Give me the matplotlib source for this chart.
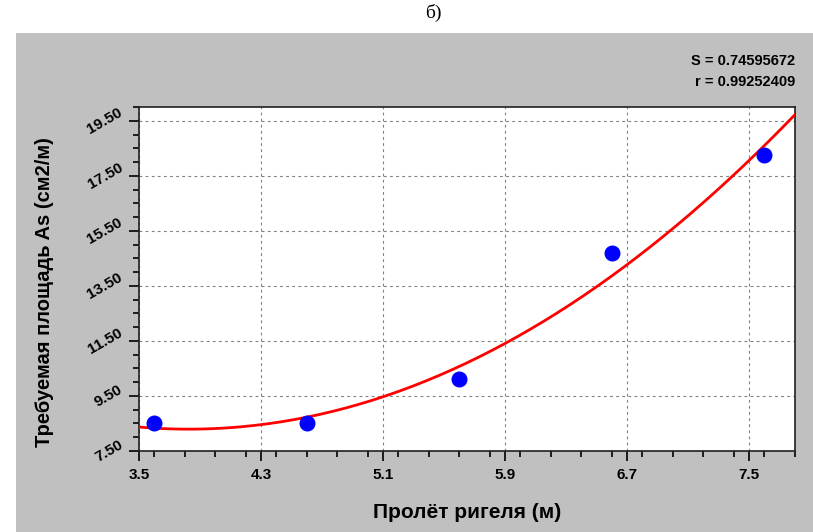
import numpy as np
import matplotlib.pyplot as plt
from matplotlib.ticker import MultipleLocator, FormatStrFormatter

# пролёт ригеля, м / требуемая площадь As, см2/м
span = [3.6, 4.6, 5.6, 6.6, 7.6]
area = [8.52, 8.50, 10.12, 14.70, 18.26]
stats = ['S = 0.74595672', 'r = 0.99252409']

coef = np.polyfit(span, area, 2)
xs = np.linspace(3.5, 7.8, 200)
ys = np.polyval(coef, xs)

fig = plt.figure(figsize=(8.13, 5.32), dpi=100)
fig.patch.set_facecolor('white')
# gray panel
bg = fig.add_axes([16 / 813, 0, 1 - 16 / 813, 1 - 33 / 532], zorder=-1)
bg.set_facecolor('#c0c0c0')
bg.set_xticks([]), bg.set_yticks([])
for s in bg.spines.values():
    s.set_visible(False)
fig.text(433 / 813, 1 - 13 / 532, 'б)', ha='center', va='center', fontsize=14,
         family=['Liberation Serif', 'DejaVu Serif'])

ax = fig.add_axes([139 / 813, 1 - 451 / 532, (795 - 139) / 813, (451 - 107) / 532])
ax.set_facecolor('white')
ax.plot(xs, ys, color='#ff0000', lw=2, zorder=3)
ax.plot(span, area, 'o', color='#0000ff', ms=10.5, zorder=4)

ax.set_xlim(3.5, 7.8)
ax.set_ylim(7.5, 20.0)
ax.xaxis.set_minor_locator(MultipleLocator(0.2))
ax.yaxis.set_minor_locator(MultipleLocator(0.5))
ax.set_xticks(np.arange(3.5, 7.81, 0.8))
ax.set_yticks(np.arange(7.5, 20.01, 2.0))
ax.xaxis.set_major_formatter(FormatStrFormatter('%.1f'))
ax.yaxis.set_major_formatter(FormatStrFormatter('%.2f'))
ax.grid(True, which='major', color='#808080', ls=(0, (2.5, 3)), lw=0.8)
ax.tick_params(which='major', length=7, width=1.2, direction='out')
ax.tick_params(which='minor', length=4, width=1.2, direction='out')
ax.tick_params(axis='x', pad=5)
ax.tick_params(axis='y', pad=3)
for lab in ax.get_xticklabels() + ax.get_yticklabels():
    lab.set_fontweight('bold')
    lab.set_fontsize(11)
    lab.set_family(['Liberation Sans', 'DejaVu Sans'])
for lab in ax.get_yticklabels():
    lab.set_rotation(30)
    lab.set_ha('right')
    lab.set_va('center')
for s in ax.spines.values():
    s.set_linewidth(1.2)
    s.set_color('#202020')

fig.text(467 / 813, 1 - 513 / 532, 'Пролёт ригеля (м)', ha='center', va='center',
         fontsize=15, fontweight='bold', family=['Liberation Sans', 'DejaVu Sans'])
fig.text(45 / 813, 1 - 292 / 532, 'Требуемая площадь As (см2/м)', ha='center', va='center',
         rotation=90, fontsize=14.5, fontweight='bold', family=['Liberation Sans', 'DejaVu Sans'])
for i, t in enumerate(stats):
    fig.text(795 / 813, 1 - (61 + 21 * i) / 532, t, ha='right', va='center', fontsize=10.5,
             fontweight='bold', family=['Liberation Sans Narrow', 'Liberation Sans'])

fig.savefig('out.png', dpi=100)
